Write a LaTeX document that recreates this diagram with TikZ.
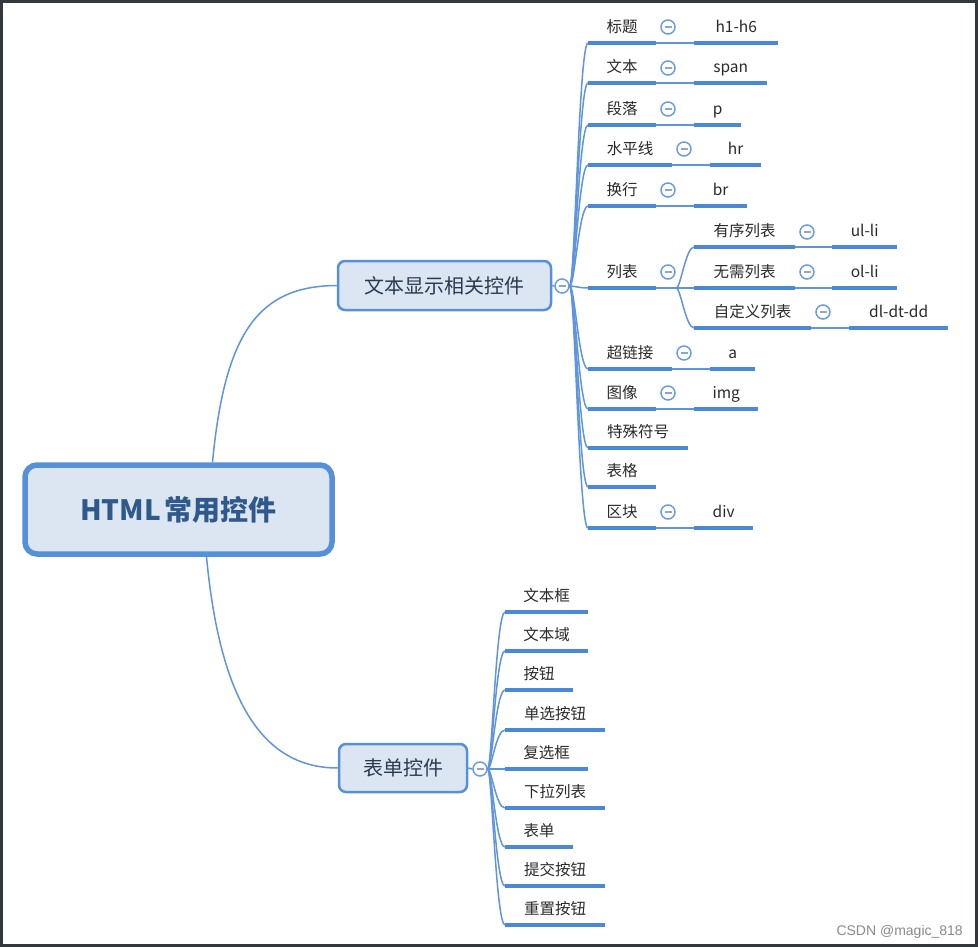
\documentclass[tikz,border=0pt]{standalone}
\usepackage{fontspec}
\newfontfamily\cjk{Noto Sans CJK SC}
\newfontfamily\wmfont{Liberation Sans}
\definecolor{framec}{HTML}{33383D}
\definecolor{lineblue}{HTML}{4A88D8}
\definecolor{thinblue}{HTML}{5E95DD}
\definecolor{nodeblue}{HTML}{5590D8}
\definecolor{nodefill}{HTML}{DCE6F2}
\definecolor{nodetext}{HTML}{2B3950}
\definecolor{roottext}{HTML}{30598B}
\definecolor{leaftext}{HTML}{2A2A2A}
\definecolor{circblue}{HTML}{6C9CE0}
\definecolor{minusc}{HTML}{8FA6C4}
\definecolor{wmgray}{HTML}{8A8A8A}
\begin{document}
\begin{tikzpicture}[x=1pt,y=-1pt,
  leaf/.style={inner sep=0, minimum height=32, anchor=south west, text height=13, text depth=1,
    font=\cjk\fontsize{15.5}{18}\selectfont, text=leaftext},
  uline/.style={draw=lineblue, line width=4, line cap=butt},
  conn/.style={draw=thinblue, line width=1.5},
  topic/.style={draw=nodeblue, line width=2.5, fill=nodefill, rounded corners=7, inner sep=0,
    font=\cjk\fontsize{20}{24}\selectfont, text=nodetext},
  coll/.style={circle, draw=circblue, line width=1.5, fill=white, minimum size=14, inner sep=0,
    path picture={\draw[minusc, line width=1.2] ([xshift=-3.5pt]path picture bounding box.center) -- ([xshift=3.5pt]path picture bounding box.center);}}
]
\useasboundingbox (0,0) rectangle (978,947);
\fill[framec] (0,0) rectangle (978,947);
\fill[white] (3,3) rectangle (975,944);

% root and main topics
\node[draw=nodeblue, line width=5.5, fill=nodefill, rounded corners=12, minimum width=307, minimum height=89,
  inner sep=0, font=\cjk\bfseries\fontsize{28}{32}\selectfont, text=roottext] (root) at (178.5,509.5) {HTML\hspace{4pt}常用控件};
\node[topic, minimum width=213, minimum height=49] (n1) at (444.5,285.5) {文本显示相关控件};
\node[topic, minimum width=128, minimum height=48] (n2) at (403,768) {表单控件};

\draw[conn] ([xshift=34pt]root.north) .. controls (225,330) and (260,286) .. (n1.west);
\draw[conn] ([xshift=28pt]root.south) .. controls (220,700) and (262,768) .. (n2.west);

% branch 1 leaves
\node[leaf, minimum width=68] (t1) at (588,43) {标题};
\node[leaf, minimum width=84] (v1) at (694,43) {h1-h6};
\node[leaf, minimum width=68] (t2) at (588,83) {文本};
\node[leaf, minimum width=73] (v2) at (694,83) {span};
\node[leaf, minimum width=68] (t3) at (588,125) {段落};
\node[leaf, minimum width=47] (v3) at (694,125) {p};
\node[leaf, minimum width=84] (t4) at (588,165) {水平线};
\node[leaf, minimum width=51] (v4) at (710,165) {hr};
\node[leaf, minimum width=68] (t5) at (588,206) {换行};
\node[leaf, minimum width=53] (v5) at (694,206) {br};
\node[leaf, minimum width=68] (t6) at (588,288) {列表};
\node[leaf, minimum width=101] (s1) at (694,247) {有序列表};
\node[leaf, minimum width=65] (w1) at (832,247) {ul-li};
\node[leaf, minimum width=101] (s2) at (694,288) {无需列表};
\node[leaf, minimum width=65] (w2) at (832,288) {ol-li};
\node[leaf, minimum width=117] (s3) at (694,328) {自定义列表};
\node[leaf, minimum width=99] (w3) at (849,328) {dl-dt-dd};
\node[leaf, minimum width=84] (t7) at (588,369) {超链接};
\node[leaf, minimum width=45] (v7) at (710,369) {a};
\node[leaf, minimum width=68] (t8) at (588,409) {图像};
\node[leaf, minimum width=64] (v8) at (694,409) {img};
\node[leaf, minimum width=100] (t9) at (588,448) {特殊符号};
\node[leaf, minimum width=68] (t10) at (588,487) {表格};
\node[leaf, minimum width=68] (t11) at (588,528) {区块};
\node[leaf, minimum width=59] (v11) at (694,528) {div};

% branch 2 leaves
\node[leaf, minimum width=83] (f1) at (505,612) {文本框};
\node[leaf, minimum width=83] (f2) at (505,651) {文本域};
\node[leaf, minimum width=68] (f3) at (505,690) {按钮};
\node[leaf, minimum width=100] (f4) at (505,730) {单选按钮};
\node[leaf, minimum width=83] (f5) at (505,769) {复选框};
\node[leaf, minimum width=100] (f6) at (505,808) {下拉列表};
\node[leaf, minimum width=68] (f7) at (505,847) {表单};
\node[leaf, minimum width=100] (f8) at (505,886) {提交按钮};
\node[leaf, minimum width=100] (f9) at (505,925) {重置按钮};

% collapse circles
\node[coll] (c1) at (562,286) {};
\node[coll] (c2) at (480,769) {};
\draw[conn] (n1.east) -- (c1.west);
\draw[conn] (n2.east) -- (c2.west);

\foreach \t in {t1,t2,t3,t4,t5,t6,t7,t8,t9,t10,t11}
  \draw[conn] (c1.east) .. controls +(5,0) and +(-9,0) .. (\t.south west);
\foreach \t in {f1,f2,f3,f4,f5,f6,f7,f8,f9}
  \draw[conn] (c2.east) .. controls +(4,0) and +(-9,0) .. (\t.south west);
\foreach \s in {s1,s2,s3}
  \draw[conn] (t6.south east) -- ++(20,0) .. controls +(4,0) and +(-8,0) .. (\s.south west);
\foreach \a/\b in {t1/v1,t2/v2,t3/v3,t4/v4,t5/v5,t7/v7,t8/v8,t11/v11,s1/w1,s2/w2,s3/w3}
  \draw[conn] (\a.south east) -- (\b.south west);

\foreach \n in {t1,v1,t2,v2,t3,v3,t4,v4,t5,v5,t6,s1,w1,s2,w2,s3,w3,t7,v7,t8,v8,t9,t10,t11,v11,f1,f2,f3,f4,f5,f6,f7,f8,f9}
  \draw[uline] (\n.south west) -- (\n.south east);

\node[coll] (k1) at (668,27) {};
\node[coll] (k2) at (668,68) {};
\node[coll] (k3) at (668,109) {};
\node[coll] (k4) at (684,149) {};
\node[coll] (k5) at (668,190) {};
\node[coll] (k6) at (668,272) {};
\node[coll] (k7) at (684,353) {};
\node[coll] (k8) at (668,393) {};
\node[coll] (k11) at (668,512) {};
\node[coll] (q1) at (807,232) {};
\node[coll] (q2) at (807,272) {};
\node[coll] (q3) at (823,312) {};

\node[anchor=base east, inner sep=0, font=\wmfont\fontsize{14}{16}\selectfont, text=wmgray] (wm) at (963,935) {CSDN @magic\_818};
\end{tikzpicture}
\end{document}
